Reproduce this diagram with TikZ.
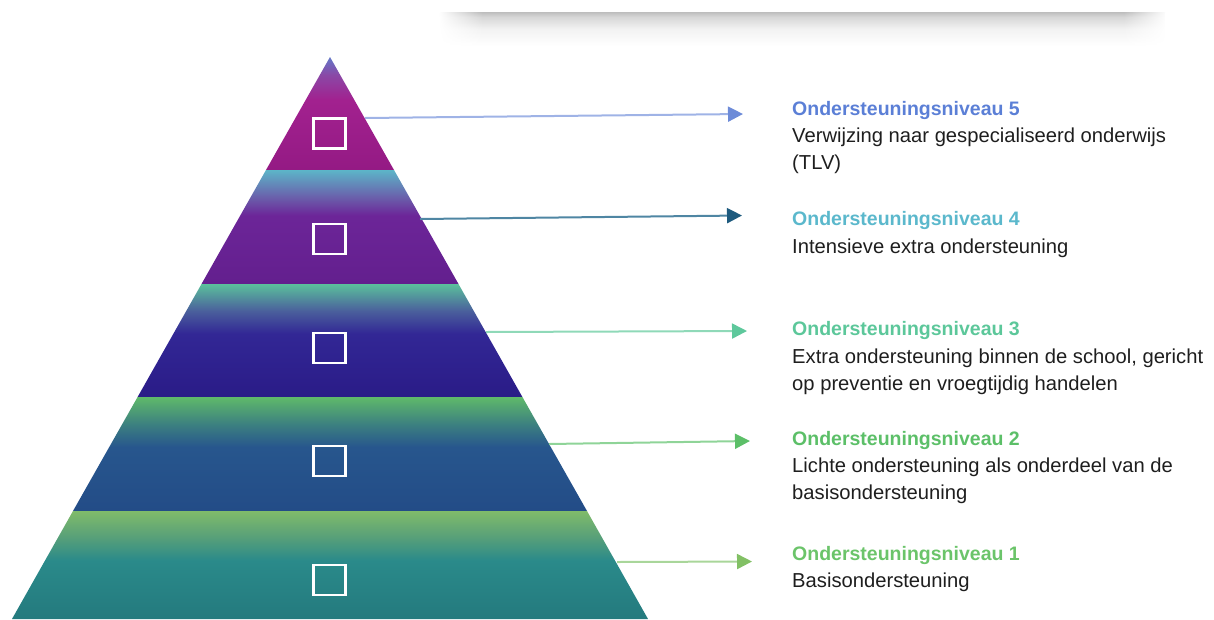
\documentclass[tikz,border=0pt]{standalone}
\usepackage{fontspec}
\setmainfont{Liberation Sans}
\usetikzlibrary{arrows.meta,fadings}

% layer colours
\definecolor{c5top}{HTML}{6478C8}\definecolor{c5mid2}{HTML}{8A48A6}\definecolor{c5mid}{HTML}{A2218F}\definecolor{c5bot}{HTML}{941A84}
\definecolor{c4top}{HTML}{5CB5C8}\definecolor{c4mid2}{HTML}{6A5FAB}\definecolor{c4mid}{HTML}{6C2598}\definecolor{c4bot}{HTML}{631F8E}
\definecolor{c3top}{HTML}{5BC09C}\definecolor{c3mid2}{HTML}{4A5F9C}\definecolor{c3mid}{HTML}{322795}\definecolor{c3bot}{HTML}{2A1B87}
\definecolor{c2top}{HTML}{5FB96A}\definecolor{c2mid2}{HTML}{3C8080}\definecolor{c2mid}{HTML}{27568D}\definecolor{c2bot}{HTML}{234C87}
\definecolor{c1top}{HTML}{80BB6A}\definecolor{c1mid2}{HTML}{58A079}\definecolor{c1mid}{HTML}{2A8A8A}\definecolor{c1bot}{HTML}{247A7E}
% heading / arrow colours
\definecolor{h5c}{HTML}{5B7FD6}\definecolor{h4c}{HTML}{5BB8CC}\definecolor{h3c}{HTML}{5CC79A}\definecolor{h2c}{HTML}{5CBF68}\definecolor{h1c}{HTML}{6BC46A}
\definecolor{a5h}{HTML}{6D8BD8}\definecolor{a5l}{HTML}{9FB3E6}
\definecolor{a4h}{HTML}{1D5A7E}\definecolor{a4l}{HTML}{4F86A3}
\definecolor{a3h}{HTML}{5EC89C}\definecolor{a3l}{HTML}{8FD9B8}
\definecolor{a2h}{HTML}{5CBF68}\definecolor{a2l}{HTML}{8FD498}
\definecolor{a1h}{HTML}{82C065}\definecolor{a1l}{HTML}{A9D69A}
\definecolor{bodyc}{HTML}{1E1E1E}
\definecolor{shadowc}{HTML}{BDBDBD}

\pgfdeclareverticalshading{lay5}{100bp}{color(0bp)=(c5bot); color(25bp)=(c5bot); color(56bp)=(c5mid); color(67bp)=(c5mid2); color(75bp)=(c5top); color(100bp)=(c5top)}
\pgfdeclareverticalshading{lay4}{100bp}{color(0bp)=(c4bot); color(25bp)=(c4bot); color(55bp)=(c4mid); color(63bp)=(c4mid2); color(75bp)=(c4top); color(100bp)=(c4top)}
\pgfdeclareverticalshading{lay3}{100bp}{color(0bp)=(c3bot); color(25bp)=(c3bot); color(53bp)=(c3mid); color(63bp)=(c3mid2); color(75bp)=(c3top); color(100bp)=(c3top)}
\pgfdeclareverticalshading{lay2}{100bp}{color(0bp)=(c2bot); color(25bp)=(c2bot); color(53bp)=(c2mid); color(63bp)=(c2mid2); color(75bp)=(c2top); color(100bp)=(c2top)}
\pgfdeclareverticalshading{lay1}{100bp}{color(0bp)=(c1bot); color(25bp)=(c1bot); color(52bp)=(c1mid); color(63bp)=(c1mid2); color(75bp)=(c1top); color(100bp)=(c1top)}
\pgfdeclareverticalshading{shadowshade}{100bp}{color(0bp)=(white); color(25bp)=(white); color(50bp)=(black!5); color(68bp)=(black!16); color(75bp)=(shadowc); color(100bp)=(shadowc)}
\pgfdeclarehorizontalshading{hfadeshade}{100bp}{color(0bp)=(pgftransparent!100); color(25bp)=(pgftransparent!100); color(28bp)=(pgftransparent!0); color(72bp)=(pgftransparent!0); color(75bp)=(pgftransparent!100); color(100bp)=(pgftransparent!100)}
\pgfdeclarefading{hfade}{\pgfuseshading{hfadeshade}}

\tikzset{
  sqbox/.style={draw=white, line width=2.2pt, minimum width=32pt, minimum height=30pt, inner sep=0pt},
  hd/.style={anchor=base west, inner sep=0pt, font=\bfseries\fontsize{19.5}{24}\selectfont},
  bd/.style={anchor=base west, inner sep=0pt, text=bodyc, font=\fontsize{20.2}{24}\selectfont},
  arrbase/.style={line width=2pt},
}

\begin{document}
\begin{tikzpicture}[x=1pt, y=-1pt]
\useasboundingbox (0,0) rectangle (1214,619);

% shadow bar at top
\shade[shading=shadowshade, path fading=hfade] (440,12) rectangle (1166,46);

% pyramid layers
\shade[shading=lay5] (330,57) -- (394,170) -- (266,170) -- cycle;
\shade[shading=lay4] (266,170) -- (394,170) -- (458.5,284) -- (201.5,284) -- cycle;
\shade[shading=lay3] (201.5,284) -- (458.5,284) -- (522.4,397) -- (137.6,397) -- cycle;
\shade[shading=lay2] (137.6,397) -- (522.4,397) -- (587,511) -- (73,511) -- cycle;
\shade[shading=lay1] (73,511) -- (587,511) -- (648,619) -- (12,619) -- cycle;

% squares
\node[sqbox] (q5) at (329.5,133.5) {};
\node[sqbox] (q4) at (329.5,239) {};
\node[sqbox] (q3) at (329.5,348) {};
\node[sqbox] (q2) at (329.5,461) {};
\node[sqbox] (q1) at (329.5,580) {};

% arrow end points
\coordinate (s5) at (365,118);
\coordinate (e5) at (743,114);
\coordinate (s4) at (420,219);
\coordinate (e4) at (742,215.5);
\coordinate (s3) at (486,332);
\coordinate (e3) at (747,331);
\coordinate (s2) at (549,444);
\coordinate (e2) at (750,441);
\coordinate (s1) at (617,562);
\coordinate (e1) at (752,561.5);

\draw[arrbase, draw=a5l, -{Triangle[length=15pt, width=15pt, fill=a5h, color=a5h]}] (s5) -- (e5);
\draw[arrbase, draw=a4l, -{Triangle[length=15pt, width=15pt, fill=a4h, color=a4h]}] (s4) -- (e4);
\draw[arrbase, draw=a3l, -{Triangle[length=15pt, width=15pt, fill=a3h, color=a3h]}] (s3) -- (e3);
\draw[arrbase, draw=a2l, -{Triangle[length=15pt, width=15pt, fill=a2h, color=a2h]}] (s2) -- (e2);
\draw[arrbase, draw=a1l, -{Triangle[length=15pt, width=15pt, fill=a1h, color=a1h]}] (s1) -- (e1);

% texts
\node[hd, text=h5c] (h5) at (792,115) {Ondersteuningsniveau 5};
\node[bd] (t5a) at (792,142) {Verwijzing naar gespecialiseerd onderwijs};
\node[bd] (t5b) at (792,169) {(TLV)};

\node[hd, text=h4c] (h4) at (792,225) {Ondersteuningsniveau 4};
\node[bd] (t4a) at (792,253) {Intensieve extra ondersteuning};

\node[hd, text=h3c] (h3) at (792,335) {Ondersteuningsniveau 3};
\node[bd] (t3a) at (792,363) {Extra ondersteuning binnen de school, gericht};
\node[bd] (t3b) at (792,390) {op preventie en vroegtijdig handelen};

\node[hd, text=h2c] (h2) at (792,445) {Ondersteuningsniveau 2};
\node[bd] (t2a) at (792,472) {Lichte ondersteuning als onderdeel van de};
\node[bd] (t2b) at (792,499) {basisondersteuning};

\node[hd, text=h1c] (h1) at (792,560) {Ondersteuningsniveau 1};
\node[bd] (t1a) at (792,587) {Basisondersteuning};
\end{tikzpicture}
\end{document}
